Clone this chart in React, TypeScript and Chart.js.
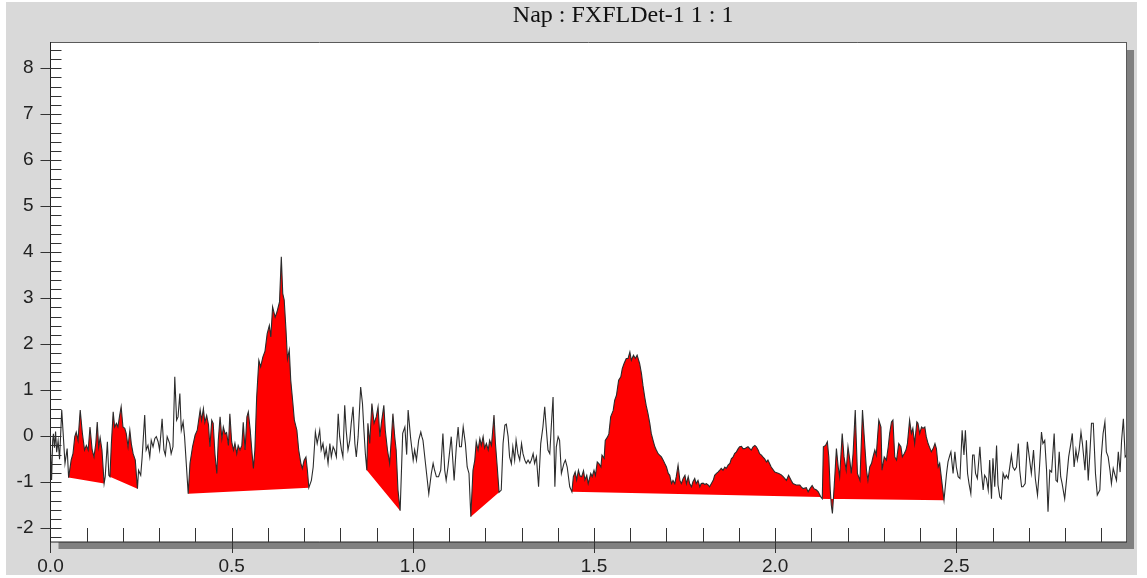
import React, { useEffect, useRef } from "react";
import { Chart, registerables } from "chart.js";

Chart.register(...registerables);

const chartTitle = "Nap : FXFLDet-1 1 : 1";

// signal samples [x, y]
const signal: [number, number][] = [
  [0.000, -0.30], [0.003, -0.95], [0.006, -0.10], [0.008, 0.05], [0.011, -0.25], [0.014, 0.10], [0.017, -0.35],
  [0.021, -0.10], [0.025, -0.50], [0.031, 0.57], [0.040, -0.59], [0.046, -0.27],
  [0.050, -0.90], [0.057, -0.52], [0.062, -0.38], [0.067, -0.01], [0.071, 0.09], [0.076, -0.09], [0.082, 0.57],
  [0.088, 0.06], [0.094, -0.30], [0.099, -0.20], [0.104, -0.30], [0.109, 0.20], [0.115, -0.30], [0.120, -0.45],
  [0.125, -0.16], [0.129, 0.31], [0.133, -0.23], [0.137, -0.03], [0.142, -0.30], [0.148, -1.03],
  [0.151, -0.88], [0.157, -0.12], [0.161, -0.85],
  [0.164, -0.88], [0.168, -0.16], [0.173, 0.53], [0.177, 0.20], [0.182, 0.28], [0.186, 0.20], [0.191, 0.46],
  [0.195, 0.64], [0.200, 0.20], [0.205, 0.17], [0.209, 0.06], [0.214, -0.23], [0.219, 0.13], [0.223, -0.16],
  [0.228, -0.38], [0.234, -0.52], [0.240, -1.14],
  [0.243, -0.74], [0.249, -0.85], [0.253, -0.45], [0.260, 0.46], [0.264, -0.30], [0.269, -0.20], [0.274, -0.45],
  [0.278, -0.09], [0.283, -0.23], [0.288, -0.05], [0.292, -0.01], [0.297, -0.12], [0.301, -0.30], [0.308, 0.38],
  [0.313, -0.30], [0.317, -0.41], [0.322, -0.01], [0.329, -0.16], [0.333, -0.38], [0.338, -0.23], [0.343, 1.29],
  [0.348, 0.35], [0.352, 0.42], [0.357, 0.93], [0.361, 0.13], [0.366, 0.31], [0.370, -0.01],
  [0.380, -1.25], [0.385, -0.59], [0.392, -0.23], [0.399, 0.02], [0.405, 0.13], [0.413, 0.57], [0.417, 0.35],
  [0.422, 0.60], [0.426, 0.30], [0.431, 0.45], [0.436, 0.25], [0.440, -0.23], [0.445, 0.35], [0.449, 0.28],
  [0.454, -0.40], [0.459, -0.81], [0.463, -0.10], [0.468, 0.42], [0.473, -0.05], [0.477, 0.20], [0.482, 0.05],
  [0.486, 0.08], [0.491, -0.20], [0.495, 0.49], [0.500, -0.12], [0.505, -0.30], [0.509, -0.15], [0.514, -0.38],
  [0.518, -0.20], [0.523, -0.30], [0.528, -0.20], [0.532, 0.30], [0.537, -0.30], [0.542, 0.42], [0.546, 0.53],
  [0.551, 0.15], [0.556, -0.35], [0.560, -0.70], [0.564, -0.30], [0.569, 0.85], [0.575, 1.65], [0.580, 1.51],
  [0.586, 1.72], [0.592, 1.85], [0.598, 2.23], [0.604, 2.41], [0.608, 2.16], [0.613, 2.81], [0.620, 2.59],
  [0.625, 2.70], [0.632, 2.92], [0.637, 3.90], [0.641, 3.10], [0.645, 2.96], [0.650, 2.30], [0.654, 1.68],
  [0.659, 1.87], [0.663, 1.22], [0.669, 0.71], [0.673, 0.35], [0.680, 0.13], [0.685, -0.30], [0.691, -0.59],
  [0.695, -0.70], [0.700, -0.52], [0.705, -0.45], [0.709, -0.74], [0.713, -1.12],
  [0.720, -0.96], [0.725, -0.67], [0.731, 0.09], [0.736, -0.16], [0.743, 0.13], [0.747, -0.30], [0.752, -0.16],
  [0.757, -0.45], [0.761, -0.27], [0.766, -0.59], [0.771, -0.16], [0.775, -0.45], [0.780, -0.23], [0.784, -0.30],
  [0.789, -0.45], [0.794, 0.49], [0.798, -0.01], [0.803, -0.30], [0.807, -0.45], [0.812, 0.67], [0.816, 0.13],
  [0.821, -0.30], [0.826, -0.09], [0.830, 0.28], [0.835, 0.64], [0.840, -0.16], [0.844, -0.45], [0.849, -0.01],
  [0.856, 1.07], [0.861, 0.71], [0.865, 0.13], [0.869, -0.38],
  [0.873, -0.74], [0.876, 0.28], [0.881, -0.16], [0.887, 0.71], [0.893, 0.28], [0.899, 0.42], [0.904, 0.64],
  [0.909, -0.01], [0.913, 0.28], [0.920, 0.67], [0.924, 0.13], [0.930, -0.30], [0.936, -0.59], [0.941, -0.01],
  [0.945, 0.49], [0.950, -0.01], [0.954, -0.30], [0.959, -1.17], [0.965, -1.62],
  [0.972, 0.06], [0.978, 0.20], [0.983, -0.40], [0.987, 0.57], [0.994, -0.05], [1.001, -0.52], [1.005, -0.30],
  [1.010, -0.52], [1.016, -0.09], [1.022, 0.09], [1.025, -0.01], [1.028, -0.09], [1.035, -0.60], [1.044, -1.25],
  [1.051, -0.81], [1.056, -0.59], [1.060, -0.74], [1.065, -0.88], [1.071, -0.88], [1.077, -0.74], [1.083, 0.06],
  [1.088, -0.74], [1.092, -0.96], [1.097, -0.67], [1.106, -0.01], [1.114, -0.96], [1.120, -0.23], [1.125, 0.20],
  [1.129, -0.23], [1.134, -0.23], [1.139, 0.20], [1.145, -0.16], [1.150, -0.67], [1.155, -0.81],
  [1.160, -1.75], [1.166, -0.74], [1.171, -0.52], [1.175, -0.12], [1.180, -0.30], [1.185, -0.05], [1.189, -0.20],
  [1.194, -0.01], [1.198, -0.26], [1.203, -0.16], [1.208, -0.30], [1.212, -0.09], [1.217, -0.20], [1.224, 0.46],
  [1.228, -0.16], [1.233, -0.67], [1.238, -1.22],
  [1.244, -1.17], [1.249, -0.16], [1.254, 0.24], [1.258, 0.26], [1.263, -0.01], [1.267, -0.45], [1.272, -0.60],
  [1.276, -0.23], [1.281, -0.52], [1.285, -0.09], [1.290, -0.38], [1.295, -0.52], [1.300, -0.16], [1.304, -0.38],
  [1.309, -0.52], [1.313, -0.59], [1.318, -0.52], [1.323, -0.59], [1.327, -0.52], [1.332, -0.38], [1.336, -0.59],
  [1.341, -0.45], [1.347, -1.10], [1.353, -0.16], [1.359, 0.20], [1.364, 0.64], [1.368, 0.20], [1.373, -0.30],
  [1.378, -0.38], [1.382, 0.20], [1.387, 0.85], [1.392, -1.10], [1.396, -0.23], [1.401, -0.01], [1.405, -0.09],
  [1.410, -0.81], [1.417, -0.59], [1.421, -0.52], [1.426, -0.67], [1.433, -1.10],
  [1.439, -1.21], [1.443, -0.88], [1.448, -0.78], [1.452, -0.95], [1.457, -0.74], [1.461, -0.86], [1.466, -0.88],
  [1.471, -0.75], [1.475, -0.95], [1.480, -0.85], [1.484, -1.03], [1.491, -0.81], [1.495, -0.88], [1.500, -0.74],
  [1.504, -0.85], [1.509, -0.56], [1.514, -0.60], [1.519, -0.67], [1.522, -0.41], [1.528, -0.48], [1.531, -0.09],
  [1.537, -0.02], [1.541, 0.05], [1.546, 0.42], [1.553, 0.56], [1.557, 0.78], [1.562, 0.89], [1.568, 1.22],
  [1.574, 1.29], [1.578, 1.47], [1.583, 1.58], [1.589, 1.69], [1.594, 1.69], [1.599, 1.83], [1.603, 1.65],
  [1.609, 1.76], [1.614, 1.69], [1.619, 1.76], [1.626, 1.58], [1.631, 1.36], [1.635, 1.11], [1.640, 0.85],
  [1.644, 0.67], [1.649, 0.49], [1.654, 0.28], [1.658, 0.06], [1.663, -0.09], [1.668, -0.23], [1.672, -0.30],
  [1.677, -0.38], [1.681, -0.41], [1.686, -0.45], [1.691, -0.52], [1.695, -0.59], [1.700, -0.67], [1.705, -0.81],
  [1.709, -0.85], [1.714, -1.03], [1.718, -0.96], [1.723, -1.03], [1.727, -0.88], [1.732, -0.63], [1.737, -0.96],
  [1.741, -1.03], [1.746, -0.92], [1.751, -0.85], [1.755, -1.03], [1.760, -0.88], [1.764, -1.03], [1.769, -1.10],
  [1.773, -0.99], [1.778, -0.92], [1.782, -1.03], [1.787, -0.96], [1.792, -1.10], [1.796, -1.03], [1.801, -1.02],
  [1.806, -1.05], [1.810, -1.03], [1.815, -1.06], [1.819, -1.10], [1.824, -1.03], [1.829, -0.96], [1.833, -0.85],
  [1.838, -0.81], [1.842, -0.78], [1.847, -0.74], [1.851, -0.70], [1.856, -0.74], [1.861, -0.67], [1.865, -0.70],
  [1.870, -0.63], [1.875, -0.59], [1.879, -0.49], [1.884, -0.45], [1.888, -0.38], [1.893, -0.34], [1.898, -0.27],
  [1.902, -0.23], [1.907, -0.22], [1.911, -0.27], [1.916, -0.27], [1.920, -0.25], [1.925, -0.23], [1.930, -0.27],
  [1.934, -0.30], [1.939, -0.23], [1.944, -0.20], [1.948, -0.23], [1.953, -0.30], [1.957, -0.38], [1.962, -0.41],
  [1.966, -0.45], [1.971, -0.49], [1.976, -0.56], [1.980, -0.52], [1.989, -0.67], [1.999, -0.78], [2.010, -0.81],
  [2.017, -0.84], [2.022, -0.88], [2.031, -0.96], [2.037, -0.85], [2.044, -0.96], [2.049, -1.03], [2.058, -1.06],
  [2.068, -1.06], [2.072, -1.10], [2.077, -1.14], [2.086, -1.12], [2.091, -1.21], [2.096, -1.14], [2.102, -1.07],
  [2.107, -1.14], [2.114, -1.17], [2.119, -1.21], [2.126, -1.32],
  [2.130, -1.36], [2.133, -0.23], [2.139, -0.20], [2.144, -0.12], [2.148, -0.45], [2.152, -1.17], [2.155, -1.50],
  [2.158, -1.68], [2.161, -1.32], [2.165, -0.81], [2.169, -0.27], [2.174, -0.67], [2.178, -0.88], [2.185, 0.06],
  [2.190, -0.45], [2.196, -0.74], [2.201, -0.23], [2.206, -0.52], [2.210, -0.81], [2.215, -0.38], [2.221, 0.57],
  [2.227, -0.81], [2.234, -0.96], [2.241, 0.57], [2.247, -0.16], [2.252, -0.74], [2.256, -0.96], [2.261, -0.67],
  [2.266, -0.59], [2.270, -0.45], [2.275, -0.30], [2.279, -0.41], [2.286, 0.35], [2.292, 0.20], [2.295, -0.74],
  [2.301, -0.45], [2.307, -0.52], [2.312, -0.23], [2.316, 0.06], [2.321, 0.31], [2.325, 0.35], [2.330, -0.45],
  [2.335, -0.52], [2.341, -0.16], [2.347, -0.23], [2.351, -0.45], [2.356, -0.38], [2.361, -0.30], [2.365, -0.16],
  [2.371, 0.35], [2.376, 0.06], [2.380, 0.17], [2.385, -0.16], [2.391, 0.31], [2.394, 0.28], [2.399, 0.06],
  [2.404, 0.20], [2.408, 0.17], [2.413, 0.20], [2.417, -0.01], [2.422, -0.16], [2.431, -0.34], [2.436, -0.27],
  [2.441, -0.16], [2.445, -0.27], [2.450, -0.67], [2.454, -0.59], [2.466, -1.39],
  [2.473, -0.81], [2.477, -0.56], [2.482, -0.41], [2.485, -0.34], [2.491, -0.81], [2.496, -0.34], [2.500, -0.67],
  [2.505, -0.88], [2.510, -0.92], [2.516, 0.13], [2.521, -0.41], [2.525, 0.13], [2.531, -0.81], [2.535, -1.03],
  [2.540, -1.25], [2.545, -0.41], [2.549, -0.41], [2.553, -0.81], [2.558, -0.92], [2.565, -0.23], [2.569, -0.74],
  [2.574, -1.17], [2.578, -0.85], [2.583, -0.92], [2.588, -1.17], [2.592, -0.52], [2.597, -1.36], [2.601, -0.48],
  [2.606, -1.10], [2.611, -0.20], [2.615, -1.06], [2.620, -1.32], [2.624, -1.36], [2.629, -0.81], [2.634, -0.92],
  [2.638, -0.85], [2.643, -0.92], [2.652, -0.41], [2.656, -0.67], [2.661, -0.74], [2.666, -0.67], [2.671, -0.16],
  [2.675, -0.74], [2.680, -1.10], [2.684, -1.10], [2.690, -1.03], [2.696, -0.12], [2.703, -0.56], [2.707, -0.81],
  [2.713, -0.30], [2.718, -0.92], [2.724, -1.28], [2.729, -0.74], [2.735, 0.09], [2.739, -0.16], [2.744, -0.09],
  [2.749, -0.74], [2.753, -1.64], [2.758, -0.74], [2.763, -0.78], [2.770, 0.06], [2.775, -0.96], [2.779, -0.99],
  [2.784, -0.34], [2.788, -0.88], [2.792, -1.03], [2.799, -1.36], [2.804, -0.96], [2.810, -0.45], [2.816, -0.16],
  [2.820, 0.06], [2.825, -0.67], [2.830, -0.30], [2.834, -0.52], [2.839, -0.30], [2.844, 0.09], [2.848, -0.16],
  [2.855, -0.74], [2.859, -0.09], [2.864, -0.96], [2.868, -0.45], [2.873, 0.28], [2.878, 0.28], [2.884, -0.81],
  [2.889, -1.28], [2.896, -1.17], [2.900, -0.45], [2.905, 0.06], [2.910, 0.31], [2.914, -0.34], [2.919, -0.45],
  [2.924, -0.74], [2.928, -1.03], [2.933, -0.70], [2.938, -0.85], [2.942, -0.96], [2.947, -0.34], [2.952, -0.78],
  [2.956, -0.10], [2.961, 0.38], [2.966, -0.45], [2.971, -0.40],
];

// red (integrated) regions: start / end x
const redStart = [0.050, 0.164, 0.380, 0.873, 1.160, 1.439, 2.130];
const redEnd = [0.148, 0.240, 0.713, 0.965, 1.238, 2.126, 2.466];

const xMin = 0;
const xMax = 2.971;
const yMin = -2.3;
const yMax = 8.57;
const xMajorTicks = [0, 0.5, 1.0, 1.5, 2.0, 2.5];
const yMajorTicks = [-2, -1, 0, 1, 2, 3, 4, 5, 6, 7, 8];
const xMinorStep = 0.1;
const yMinorStep = 0.2;

const frame = {
  id: "frame",
  beforeDraw(chart: any) {
    const { ctx, chartArea: a } = chart;
    ctx.save();
    ctx.fillStyle = "#808080";
    ctx.fillRect(a.right, a.top + 8, 7, a.bottom - a.top - 1);
    ctx.fillRect(a.left + 8, a.bottom, a.right - a.left - 1, 7);
    ctx.fillStyle = "#ffffff";
    ctx.fillRect(a.left, a.top, a.right - a.left, a.bottom - a.top);
    ctx.restore();
  },
  afterDraw(chart: any) {
    const { ctx, chartArea: a, scales } = chart;
    const xs = scales.x;
    const ys = scales.y;
    ctx.save();
    ctx.lineWidth = 1;
    // border
    ctx.strokeStyle = "#5a5a5a";
    ctx.beginPath();
    ctx.moveTo(a.left, a.top + 0.5);
    ctx.lineTo(a.right, a.top + 0.5);
    ctx.moveTo(a.right - 0.5, a.top);
    ctx.lineTo(a.right - 0.5, a.bottom);
    ctx.stroke();
    ctx.strokeStyle = "#222";
    ctx.beginPath();
    ctx.moveTo(a.left, a.top);
    ctx.lineTo(a.left, a.bottom);
    ctx.moveTo(a.left, a.bottom);
    ctx.lineTo(a.right, a.bottom);
    ctx.stroke();
    // y ticks
    ctx.strokeStyle = "#333";
    ctx.beginPath();
    for (let v = yMin + 0.1; v < yMax; v += yMinorStep) {
      const r = Math.round(v * 10) / 10;
      const py = Math.round(ys.getPixelForValue(r)) + 0.5;
      const major = yMajorTicks.includes(r);
      ctx.moveTo(a.left - (major ? 10 : 0), py);
      ctx.lineTo(a.left + 11, py);
    }
    // x ticks
    for (let v = xMinorStep; v < xMax; v += xMinorStep) {
      const r = Math.round(v * 10) / 10;
      const px = Math.round(xs.getPixelForValue(r)) + 0.5;
      const major = xMajorTicks.includes(r);
      ctx.moveTo(px, a.bottom - 14);
      ctx.lineTo(px, a.bottom + (major ? 11 : 0));
    }
    ctx.moveTo(a.left, a.bottom);
    ctx.lineTo(a.left, a.bottom + 11);
    ctx.stroke();
    // title
    ctx.fillStyle = "#111";
    ctx.font = '24px "Liberation Serif", "Times New Roman", serif';
    ctx.textAlign = "center";
    ctx.textBaseline = "alphabetic";
    ctx.fillText(chartTitle, a.left + (a.right - a.left) * 0.532, 20);
    ctx.restore();
  },
};

export default function App() {
  const ref = useRef<HTMLCanvasElement | null>(null);
  useEffect(() => {
    if (!ref.current) return;
    const pts = signal.map(([x, y]) => ({ x, y }));
    const redSets = redStart.map((s, i) => ({
      data: pts.filter((p) => p.x >= s - 1e-9 && p.x <= redEnd[i] + 1e-9),
      borderColor: "rgba(0,0,0,0)",
      borderWidth: 1,
      backgroundColor: "#ff0000",
      fill: "shape",
      pointRadius: 0,
      tension: 0,
    }));
    const chart = new Chart(ref.current, {
      type: "line",
      data: {
        datasets: [
          {
            data: pts,
            borderColor: "#2b2b2b",
            borderWidth: 1.1,
            pointRadius: 0,
            fill: false,
            tension: 0,
          },
          ...redSets,
        ] as any,
      },
      options: {
        animation: false,
        responsive: false,
        devicePixelRatio: 1,
        layout: { padding: { top: 40, right: 10, left: 0, bottom: 0 } },
        plugins: {
          legend: { display: false },
          tooltip: { enabled: false },
          title: { display: false },
        },
        scales: {
          x: {
            type: "linear",
            min: xMin,
            max: xMax,
            grid: { display: false, drawTicks: false },
            border: { display: false },
            ticks: {
              stepSize: 0.5,
              padding: 13,
              autoSkip: false,
              maxRotation: 0,
              color: "#222",
              font: { family: '"Liberation Sans", Arial, sans-serif', size: 19 },
              callback: (v: any) => Number(v).toFixed(1),
            },
            afterBuildTicks: (s: any) => {
              s.ticks = xMajorTicks.map((value) => ({ value }));
            },
            afterFit: (s: any) => {
              s.height = 33;
            },
          },
          y: {
            type: "linear",
            min: yMin,
            max: yMax,
            grid: { display: false, drawTicks: false },
            border: { display: false },
            ticks: {
              stepSize: 1,
              padding: 17,
              color: "#222",
              font: { family: '"Liberation Sans", Arial, sans-serif', size: 19 },
              callback: (v: any) => String(Math.round(Number(v))),
            },
            afterBuildTicks: (s: any) => {
              s.ticks = yMajorTicks.map((value) => ({ value }));
            },
            afterFit: (s: any) => {
              s.width = 44.5;
            },
          },
        },
      } as any,
      plugins: [frame],
    });
    return () => chart.destroy();
  }, []);
  return (
    <div
      style={{
        position: "absolute",
        left: 6,
        top: 2,
        width: 1131,
        height: 573,
        background: "#d9d9d9",
      }}
    >
      <canvas ref={ref} width={1131} height={573} style={{ display: "block" }} />
    </div>
  );
}
